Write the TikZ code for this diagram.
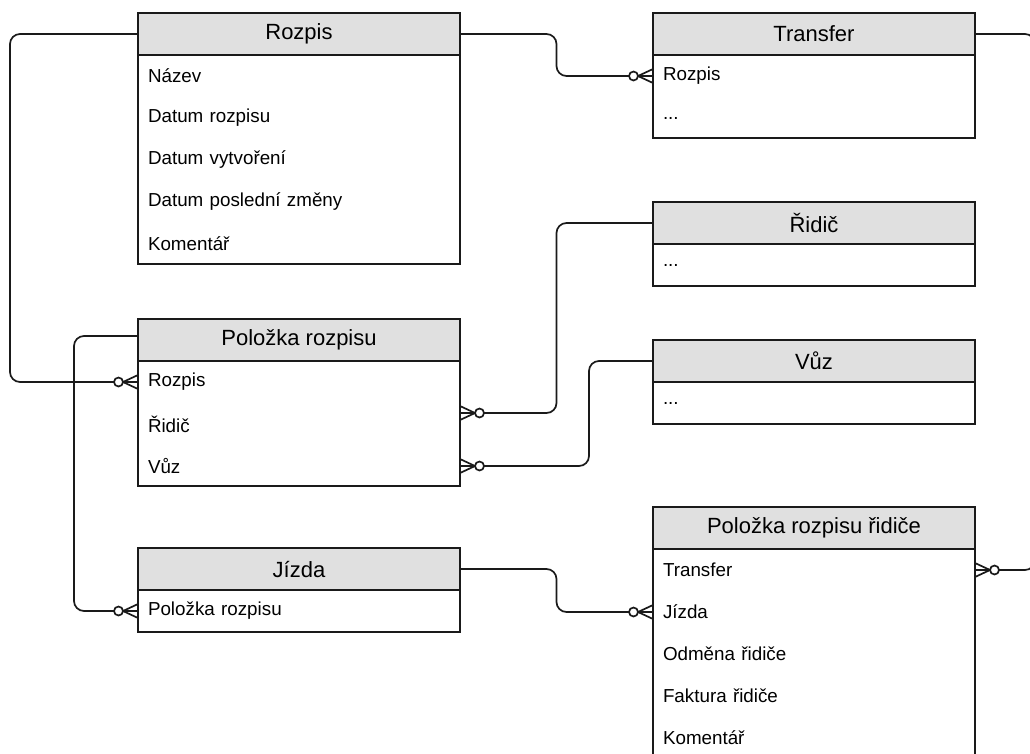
\documentclass[tikz,border=0pt]{standalone}
\usepackage{fontspec}
\setmainfont{Liberation Sans}
\usetikzlibrary{calc}
\definecolor{ink}{HTML}{1A1A1A}
\definecolor{headfill}{HTML}{E0E0E0}

\begin{document}
\begin{tikzpicture}[x=1pt,y=-1pt,
  every node/.style={outer sep=0pt},
  hdr/.style={draw=ink, line width=1.8pt, fill=headfill, minimum width=322pt,
    minimum height=42pt, inner sep=0pt, anchor=north west,
    font=\fontsize{22}{26}\selectfont},
  fieldrow/.style={minimum height=42pt, text width=302pt, inner xsep=10pt,
    inner ysep=0pt, align=left, anchor=north west,
    font=\fontsize{18.8}{22}\selectfont},
  body/.style={draw=ink, line width=1.8pt},
  conn/.style={draw=ink, line width=1.7pt, rounded corners=10pt},
  zm/.pic={
    \draw[ink, line width=1.7pt] (0,-7) -- (-15,0) -- (0,7) (0,0) -- (-15,0);
    \draw[ink, line width=1.7pt, fill=white] (-19.5,0) circle (4.5pt);
  }
]
\useasboundingbox (0,0) rectangle (1030,753);
\clip (0,0) rectangle (1030,753);

% ---- Rozpis ----
\node[hdr] (rozpis) at (138,13) {Rozpis};
\node[fieldrow] (rz1) at (rozpis.south west) {Název};
\node[fieldrow] (rz2) at (rz1.south west) {Datum rozpisu};
\node[fieldrow] (rz3) at (rz2.south west) {Datum vytvoření};
\node[fieldrow] (rz4) at (rz3.south west) {Datum poslední změny};
\node[fieldrow] (rz5) at (rz4.south west) {Komentář};
\draw[body] (rozpis.south west) rectangle ([yshift=1pt]rz5.south east);

% ---- Transfer ----
\node[hdr] (transfer) at (653,13) {Transfer};
\node[fieldrow] (tr1) at (transfer.south west) {Rozpis};
\node[fieldrow] (tr2) at (tr1.south west) {...};
\draw[body] (transfer.south west) rectangle ([yshift=1pt]tr2.south east);

% ---- Řidič ----
\node[hdr] (ridic) at (653,202) {Řidič};
\node[fieldrow] (ri1) at (ridic.south west) {...};
\draw[body] (ridic.south west) rectangle (ri1.south east);

% ---- Vůz ----
\node[hdr] (vuz) at (653,340) {Vůz};
\node[fieldrow] (vz1) at (vuz.south west) {...};
\draw[body] (vuz.south west) rectangle (vz1.south east);

% ---- Položka rozpisu ----
\node[hdr] (polozka) at (138,319) {Položka rozpisu};
\node[fieldrow] (pr1) at (polozka.south west) {Rozpis};
\node[fieldrow] (pr2) at (pr1.south west) {Řidič};
\node[fieldrow] (pr3) at (pr2.south west) {Vůz};
\draw[body] (polozka.south west) rectangle ([yshift=1pt]pr3.south east);

% ---- Jízda ----
\node[hdr] (jizda) at (138,548) {Jízda};
\node[fieldrow] (jz1) at (jizda.south west) {Položka rozpisu};
\draw[body] (jizda.south west) rectangle (jz1.south east);

% ---- Položka rozpisu řidiče ----
\node[hdr] (prr) at (653,507) {Položka rozpisu řidiče};
\node[fieldrow] (prr1) at (prr.south west) {Transfer};
\node[fieldrow] (prr2) at (prr1.south west) {Jízda};
\node[fieldrow] (prr3) at (prr2.south west) {Odměna řidiče};
\node[fieldrow] (prr4) at (prr3.south west) {Faktura řidiče};
\node[fieldrow] (prr5) at (prr4.south west) {Komentář};
\draw[body] (prr.south west) rectangle (prr5.south east);

% ---- relationships ----
\draw[conn] (rozpis.west) -- ++(-128,0) |- (pr1.west);
\pic at (pr1.west) {zm};

\draw[conn] (rozpis.east) -| ($(rozpis.east)!.5!(tr1.west)$) |- (tr1.west);
\pic at (tr1.west) {zm};

\coordinate (pr2r) at ([yshift=11pt]pr2.east);
\draw[conn] (ridic.west) -| ($(ridic.west)!.5!(pr2r)$) |- (pr2r);
\pic[rotate=180] at (pr2r) {zm};

\draw[conn] (vuz.west) -- ++(-64,0) |- (pr3.east);
\pic[rotate=180] at (pr3.east) {zm};

\draw[conn] ([yshift=4pt]polozka.west) -- ++(-64,0) |- (jz1.west);
\pic at (jz1.west) {zm};

\draw[conn] (jizda.east) -| ($(jizda.east)!.5!(prr2.west)$) |- (prr2.west);
\pic at (prr2.west) {zm};

\draw[conn] (transfer.east) -- ++(60,0) |- (prr1.east);
\pic[rotate=180] at (prr1.east) {zm};
\end{tikzpicture}
\end{document}
